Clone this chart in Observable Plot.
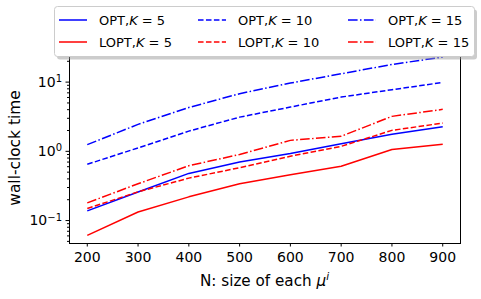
<!DOCTYPE html>
<html><head><meta charset="utf-8">
<script src="https://cdn.jsdelivr.net/npm/d3@7"></script>
<script src="https://cdn.jsdelivr.net/npm/@observablehq/plot@0.6"></script>
<style>
body{margin:0;background:#fff;font-family:"DejaVu Sans",sans-serif;}
#wrap{position:relative;width:481px;height:299px;}
#legend{position:absolute;left:0;top:0;}
</style></head>
<body><div id="wrap"></div>
<script>
const N = [200, 300, 400, 500, 600, 700, 800, 900];
const opt5   = [0.138, 0.259, 0.48, 0.70, 0.93, 1.29, 1.76, 2.27];
const lopt5  = [0.061, 0.133, 0.22, 0.34, 0.46, 0.61, 1.06, 1.27];
const opt10  = [0.65, 1.12, 1.96, 3.12, 4.36, 6.08, 7.77, 9.9];
const lopt10 = [0.149, 0.26, 0.41, 0.58, 0.85, 1.18, 2.01, 2.56];
const opt15  = [1.25, 2.45, 4.3, 6.8, 9.7, 13.2, 18.0, 23.0];
const lopt15 = [0.18, 0.34, 0.62, 0.90, 1.44, 1.65, 3.2, 4.04];
const xTicks = [200, 300, 400, 500, 600, 700, 800, 900];
const yTicks = [0.1, 1, 10];
const yTickExp = ["\u22121", "0", "1"];

const dashed = "5.55,2.4";
const dashdot = "9.6,2.4,1.5,2.4";
const series = [
  {name: "OPT", k: 5, vals: opt5, color: "blue", dash: null},
  {name: "LOPT", k: 5, vals: lopt5, color: "red", dash: null},
  {name: "OPT", k: 10, vals: opt10, color: "blue", dash: dashed},
  {name: "LOPT", k: 10, vals: lopt10, color: "red", dash: dashed},
  {name: "OPT", k: 15, vals: opt15, color: "blue", dash: dashdot},
  {name: "LOPT", k: 15, vals: lopt15, color: "red", dash: dashdot}
];

const yDom = [0.0466, 29.6];
const minor = d3.scaleLog().domain(yDom).ticks().filter(v => !yTicks.includes(v));

const marks = [];
for (const s of series) {
  const data = N.map((n, i) => ({n, v: s.vals[i]}));
  marks.push(Plot.line(data, {x: "n", y: "v", stroke: s.color, strokeWidth: 1.5,
    strokeDasharray: s.dash, strokeLinejoin: "round", strokeLinecap: "butt"}));
}
marks.push(Plot.frame({stroke: "black", strokeWidth: 1}));
marks.push(Plot.axisX({ticks: xTicks, tickSize: 3.5, tickPadding: 5, fontSize: 14,
  label: null, tickFormat: d => String(d)}));
marks.push(Plot.axisY({ticks: yTicks, tickSize: 3.5, tickPadding: 4, fontSize: 14,
  label: null, tickFormat: d => "10^" + yTickExp[yTicks.indexOf(d)]}));
marks.push(Plot.axisY({ticks: minor, tickSize: 2, tickFormat: null, text: null, label: null}));

const chart = Plot.plot({
  width: 481, height: 299,
  marginLeft: 69, marginRight: 21, marginTop: 49, marginBottom: 56,
  style: {fontFamily: "DejaVu Sans, sans-serif", color: "#000", background: "#fff", fontSize: "14px"},
  x: {domain: [165, 935]},
  y: {type: "log", domain: yDom},
  marks
});
const wrap = document.getElementById("wrap");
wrap.appendChild(chart);
const svg = d3.select(chart);
// render y tick labels as 10 with a raised, smaller exponent
svg.selectAll('g[aria-label="y-axis tick label"] text').each(function() {
  const t = d3.select(this);
  const parts = t.text().split("^");
  if (parts.length === 2) {
    t.text(null);
    t.append("tspan").text(parts[0]);
    t.append("tspan").attr("font-size", 10).attr("dy", "-0.45em").text(parts[1]);
  }
});

// axis titles
svg.append("text").attr("x", 264.5).attr("y", 286).attr("text-anchor", "middle")
  .attr("font-size", 15.2).attr("fill", "black")
  .html('N: size of each <tspan font-style="italic">\u03BC</tspan><tspan font-style="italic" font-size="10.5" dy="-6.5">i</tspan>');
svg.append("text").attr("transform", "translate(19.5,148) rotate(-90)")
  .attr("text-anchor", "middle").attr("font-size", 15.4).attr("fill", "black")
  .text("wall-clock time");

// legend overlay
const leg = d3.select(wrap).append("svg").attr("id", "legend").attr("width", 481).attr("height", 70);
leg.append("rect").attr("x", 57).attr("y", 9.5).attr("width", 420).attr("height", 50).attr("rx", 3)
  .attr("fill", "#999").attr("opacity", 0.5);
leg.append("rect").attr("x", 54.5).attr("y", 6.5).attr("width", 420).attr("height", 50).attr("rx", 3)
  .attr("fill", "white").attr("stroke", "#ccc").attr("stroke-width", 1);
const colX = [59, 198, 348];
const rowY = [20, 42];
series.forEach((s, i) => {
  const c = Math.floor(i / 2), r = i % 2;
  const x0 = colX[c], y0 = rowY[r];
  leg.append("line").attr("x1", x0).attr("x2", x0 + 28).attr("y1", y0).attr("y2", y0)
    .attr("stroke", s.color).attr("stroke-width", 1.5).attr("stroke-dasharray", s.dash);
  leg.append("text").attr("x", x0 + 40).attr("y", y0 + 4.7).attr("font-size", 13)
    .attr("fill", "black")
    .html(`${s.name},<tspan font-style="italic">K</tspan> = ${s.k}`);
});
</script></body></html>
